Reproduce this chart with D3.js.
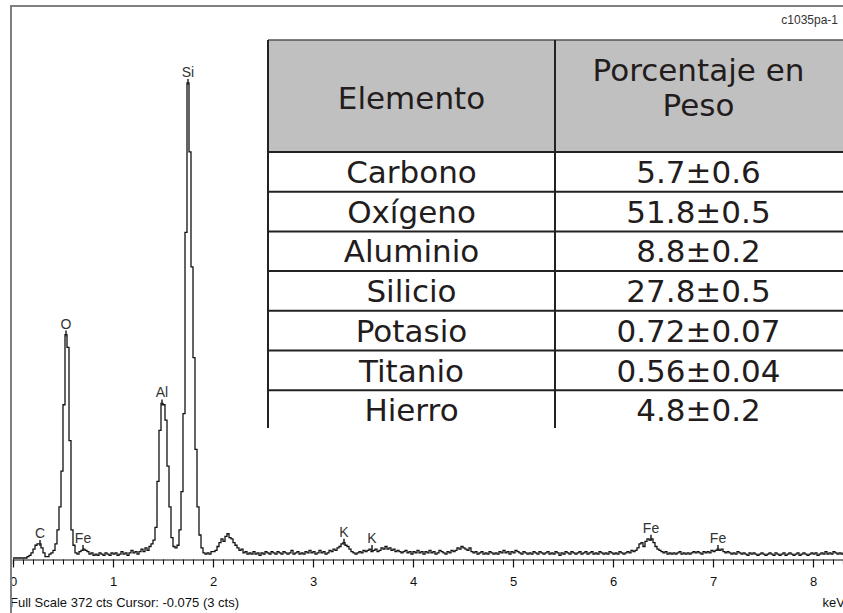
<!DOCTYPE html>
<html>
<head>
<meta charset="utf-8">
<script src="https://cdn.jsdelivr.net/npm/d3@7"></script>
<style>
body { margin: 0; background: #fff; }
svg { display: block; }
</style>
</head>
<body>
<svg id="chart" width="843" height="613"></svg>
<script>
var canal = 0.02;
var spec0 = [0,0,0,0,0,0,0,1,2,4, 7,10,11,11,8,4,1,1,3,4, 6,11,22,40,68,120,175,165,92,22, 10,4,3,5,6,7,6,5,3,4, 2,3,2,4,3,2,4,3,2,4];
var spec1 = [3,4,2,3,5,3,4,2,4,6, 4,5,3,5,7,5,8,6,9,11, 14,24,60,100,121,120,108,72,40,16, 9,8,10,22,52,113,255,372,318,228, 157,85,40,18,8,4,3,4,3,5];
var spec2 = [5,6,9,12,15,13,17,19,16,15, 12,10,8,6,7,4,5,3,4,3, 5,3,4,2,4,3,5,4,3,5, 4,3,5,4,3,5,4,3,4,6, 3,4,5,3,4,3,5,4,6,4];
var spec3 = [5,3,4,6,4,5,3,4,6,5, 7,6,8,9,11,12,10,9,7,5, 4,3,4,5,4,6,5,6,7,5, 6,7,5,6,8,7,9,7,8,6, 7,5,6,5,4,5,6,4,5,3];
var spec4 = [5,4,6,4,5,3,5,4,6,4, 5,3,4,6,5,4,3,5,4,6, 5,6,8,7,9,8,7,6,8,5, 4,5,3,4,5,3,4,3,5,4, 3,4,3,5,4,6,4,5,3,5];
var spec5 = [4,6,5,4,3,5,4,3,4,3, 5,4,3,5,4,3,4,5,3,4, 3,5,4,2,4,3,5,4,3,5, 4,3,4,5,3,4,5,3,4,5, 3,4,3,5,4,3,4,3,5,4];
var spec6 = [3,4,3,5,4,3,4,5,4,6, 5,6,8,11,12,9,13,15,14,15, 12,9,7,6,5,4,5,3,4,3, 4,3,4,5,3,4,3,4,3,4, 5,4,5,4,3,5,4,5,4,6];
var spec7 = [5,6,7,6,7,5,4,5,4,3, 4,3,5,4,3,4,3,2,4,3, 4,3,2,3,4,3,2,3,4,3, 2,4,3,2,3,4,2,3,4,3, 2,3,4,2,3,4,3,2,3,4];
var spec8 = [3,4,2,3,4,3,5,3,4,3, 5,4,3,4,3,4];

// etiquetas de picos
var picoNombre = ["C", "O", "Fe", "Al", "Si", "K", "K", "Fe", "Fe"];
var picoEnergia = [0.27, 0.53, 0.70, 1.49, 1.75, 3.31, 3.59, 6.38, 7.05];

// tabla
var elementos = ["Carbono", "Oxígeno", "Aluminio", "Silicio", "Potasio", "Titanio", "Hierro"];
var pesoValor = [5.7, 51.8, 8.8, 27.8, 0.72, 0.56, 4.8];
var pesoError = [0.6, 0.5, 0.2, 0.5, 0.07, 0.04, 0.2];
var encabezado = ["Elemento", "Porcentaje en", "Peso"];

var ticksKeV = [0, 1, 2, 3, 4, 5, 6, 7, 8];
var escalaTotal = 372;

var cuentas = [].concat(spec0, spec1, spec2, spec3, spec4, spec5, spec6, spec7, spec8);
var puntos = cuentas.map(function(c, i){ return {e: i * canal, c: c}; });
puntos.push({e: cuentas.length * canal, c: cuentas[cuentas.length - 1]});

var svg = d3.select("#chart");
var W = 843, H = 613;
var sans = "'Liberation Sans', Arial, sans-serif";
var tahoma = "'DejaVu Sans', Verdana, sans-serif";

svg.append("rect").attr("width", W).attr("height", H).attr("fill", "#fff");

var x = d3.scaleLinear().domain([0, 8.3]).range([13, 843]);
var y = d3.scaleLinear().domain([0, escalaTotal]).range([558, 83]);

// eje
var ejeY = 559.5;
var menores = d3.range(0, 84).map(function(i){ return i / 10; });
svg.append("g")
	.attr("transform", "translate(0," + ejeY + ")")
	.call(d3.axisBottom(x).tickValues(menores).tickSize(5).tickFormat(""))
	.call(function(g){ g.select(".domain").attr("stroke", "#111").attr("stroke-width", 1.2); })
	.call(function(g){ g.selectAll(".tick line").attr("stroke", "#111"); });
svg.append("g")
	.attr("transform", "translate(0," + ejeY + ")")
	.call(d3.axisBottom(x).tickValues(ticksKeV).tickSize(8).tickPadding(9).tickFormat(d3.format("d")))
	.call(function(g){ g.select(".domain").remove(); })
	.call(function(g){ g.selectAll(".tick line").attr("stroke", "#111").attr("stroke-width", 1.2); })
	.call(function(g){ g.selectAll("text").attr("font-family", sans).attr("font-size", 13).attr("fill", "#111"); });

// espectro
var linea = d3.line()
	.x(function(d){ return x(d.e); })
	.y(function(d){ return y(d.c); })
	.curve(d3.curveStepAfter);
svg.append("path")
	.datum(puntos)
	.attr("fill", "none")
	.attr("stroke", "#111")
	.attr("stroke-width", 1.3)
	.attr("d", linea);

function maxCerca(e){
	var m = 0;
	puntos.forEach(function(p){ if (Math.abs(p.e + canal / 2 - e) <= 0.03) m = Math.max(m, p.c); });
	return m;
}

var etiquetas = svg.append("g");
picoNombre.forEach(function(n, i){
	var e = picoEnergia[i];
	var top = y(maxCerca(e));
	etiquetas.append("line")
		.attr("x1", x(e)).attr("x2", x(e))
		.attr("y1", top - 4).attr("y2", top + 2)
		.attr("stroke", "#222").attr("stroke-width", 1.5);
	etiquetas.append("text")
		.attr("x", x(e)).attr("y", top - 6)
		.attr("text-anchor", "middle")
		.attr("font-family", sans).attr("font-size", 14)
		.attr("fill", "#333")
		.text(n);
});

// tabla superpuesta
var tabla = svg.append("g");
var tx0 = 268, tx1 = 555, tx2 = 846;
var ty0 = 40, ty1 = 152, fila = 39.7;
svg.append("clipPath").attr("id", "corte")
	.append("rect").attr("x", 0).attr("y", 0).attr("width", W).attr("height", 428);
tabla.attr("clip-path", "url(#corte)");
tabla.append("rect").attr("x", tx0).attr("y", ty0).attr("width", tx2 - tx0).attr("height", ty1 - ty0)
	.attr("fill", "#c0c0c0");
tabla.append("rect").attr("x", tx0).attr("y", ty1).attr("width", tx2 - tx0).attr("height", fila * elementos.length)
	.attr("fill", "#fff");
var lineasH = [ty0, ty1].concat(elementos.map(function(d, i){ return ty1 + fila * (i + 1); }));
lineasH.forEach(function(yy, i){
	tabla.append("line").attr("x1", tx0).attr("x2", tx2).attr("y1", yy).attr("y2", yy)
		.attr("stroke", i == 0 ? "#555" : "#222").attr("stroke-width", i == 0 ? 1.5 : 2);
});
[tx0, tx1].forEach(function(xx){
	tabla.append("line").attr("x1", xx).attr("x2", xx).attr("y1", ty0).attr("y2", 440)
		.attr("stroke", "#222").attr("stroke-width", 2);
});
var c1 = (tx0 + tx1) / 2, c2 = (tx1 + tx2) / 2 - 2;
var fs = 31;
function celda(tx, cx, cy){
	tabla.append("text").attr("x", cx).attr("y", cy)
		.attr("text-anchor", "middle").attr("dy", "0.36em")
		.attr("font-family", tahoma).attr("font-size", fs)
		.attr("fill", "#231c1c")
		.text(tx);
}
celda(encabezado[0], c1, (ty0 + ty1) / 2 + 2);
celda(encabezado[1], c2, 70);
celda(encabezado[2], c2, 105);
elementos.forEach(function(el, i){
	var cy = ty1 + fila * (i + 0.5);
	var dig = pesoError[i] < 0.1 ? 2 : 1;
	celda(el, c1, cy);
	celda(pesoValor[i].toFixed(dig) + "±" + pesoError[i].toFixed(dig), c2, cy);
});

// textos del pie y marco
svg.append("text").attr("x", 838).attr("y", 24).attr("text-anchor", "end")
	.attr("font-family", sans).attr("font-size", 12).attr("fill", "#333").text("c1035pa-1");
svg.append("text").attr("x", 10).attr("y", 607)
	.attr("font-family", sans).attr("font-size", 13).attr("fill", "#111")
	.text("Full Scale " + escalaTotal + " cts Cursor: -0.075  (3 cts)");
svg.append("text").attr("x", 845).attr("y", 607).attr("text-anchor", "end")
	.attr("font-family", sans).attr("font-size", 13).attr("fill", "#111").text("keV");

svg.append("rect").attr("x", 0).attr("y", 0).attr("width", 10).attr("height", H).attr("fill", "#fff");
svg.append("path")
	.attr("d", "M11," + H + "V6H" + W)
	.attr("fill", "none").attr("stroke", "#7f7f7f").attr("stroke-width", 2);
</script>
</body>
</html>
